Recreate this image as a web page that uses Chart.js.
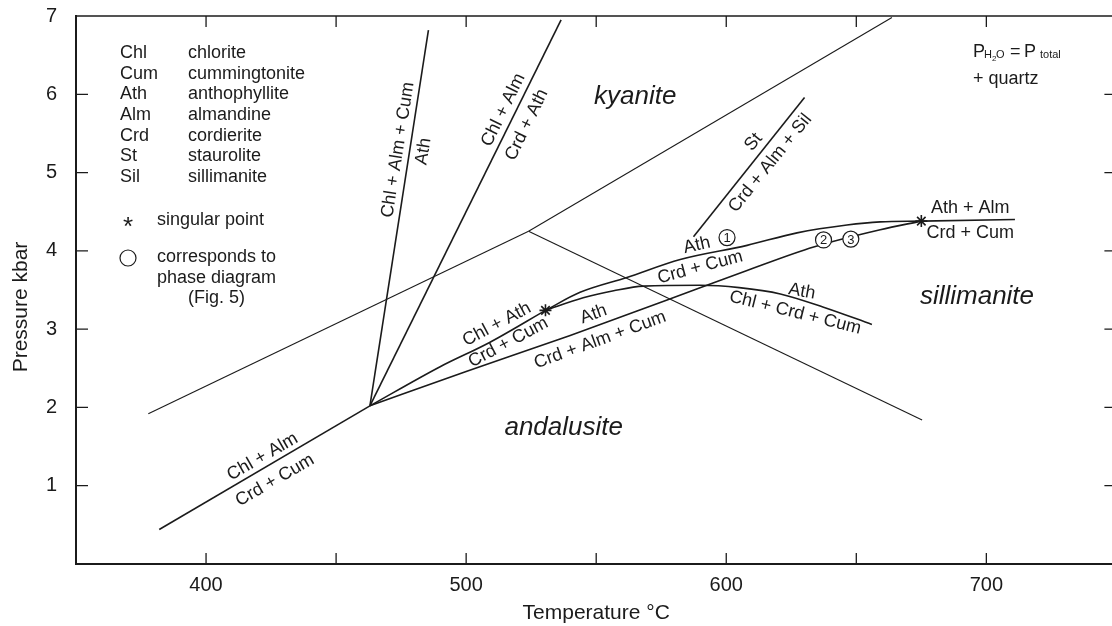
<!DOCTYPE html>
<html>
<head>
<meta charset="utf-8">
<script src="https://cdn.jsdelivr.net/npm/chart.js@4.4.1/dist/chart.umd.min.js"></script>
<style>
  html, body { margin: 0; padding: 0; background: #fff; overflow: hidden; }
  canvas { display: block; }
</style>
</head>
<body>
<canvas id="myChart" width="1124" height="626"></canvas>
<script>
// Reaction curves, temperature (°C) and pressure (kbar)
const chlAlmCrdCumT = [382, 463];
const chlAlmCrdCumP = [0.44, 2.02];

const chlAlmCumAthT = [463, 485.5];
const chlAlmCumAthP = [2.02, 6.82];

const chlAlmCrdAthT = [463, 536.5];
const chlAlmCrdAthP = [2.02, 6.95];

const chlAthCrdCumT = [463, 490, 509, 530.5];
const chlAthCrdCumP = [2.02, 2.52, 2.83, 3.24];

const athCrdCumT = [530.5, 543.8, 561.8, 582.3, 608, 627.2, 646.4, 659.2, 675];
const athCrdCumP = [3.24, 3.47, 3.66, 3.89, 4.07, 4.23, 4.33, 4.37, 4.38];

const athCrdAlmCumT = [463, 500, 540, 577, 608, 633.6, 659.2, 675];
const athCrdAlmCumP = [2.02, 2.46, 2.92, 3.37, 3.75, 4.05, 4.27, 4.38];

const athChlCrdCumT = [530.5, 545, 556.7, 568.2, 590, 605, 620.8, 637.4, 656];
const athChlCrdCumP = [3.24, 3.40, 3.49, 3.55, 3.56, 3.53, 3.45, 3.28, 3.06];

const athAlmCrdCumT = [675, 711];
const athAlmCrdCumP = [4.38, 4.40];

const stCrdAlmSilT = [587.4, 630.1];
const stCrdAlmSilP = [4.18, 5.96];

// Al2SiO5 polymorph boundaries
const kyAndT = [377.8, 524];
const kyAndP = [1.92, 4.25];
const kySilT = [524, 663.7];
const kySilP = [4.25, 6.98];
const andSilT = [524, 675.3];
const andSilP = [4.25, 1.84];

// singular points
const singularT = [530.5, 675];
const singularP = [3.24, 4.38];

// labels along the curves: text, T, P, angle (deg)
const curveLabels = [
    ['Chl + Alm', 421.7, 1.37, -30],
    ['Crd + Cum', 426.5, 1.07, -30],
    ['Chl + Alm + Cum', 473.8, 5.29, -81],
    ['Ath', 483.6, 5.27, -81],
    ['Chl + Alm', 514.3, 5.80, -64],
    ['Crd + Ath', 523.3, 5.61, -64],
    ['St', 610.5, 5.39, -51],
    ['Crd + Alm + Sil', 616.9, 5.12, -51],
    ['Chl + Ath', 511.8, 3.06, -28],
    ['Crd + Cum', 516.2, 2.83, -28],
    ['Ath', 549, 3.19, -20],
    ['Crd + Alm + Cum', 551.5, 2.86, -20],
    ['Ath', 588.7, 4.07, -13],
    ['Crd + Cum', 590, 3.79, -15],
    ['Ath', 629.1, 3.48, 10],
    ['Chl + Crd + Cum', 626.5, 3.21, 14],
    ['Ath + Alm', 693.8, 4.55, 0],
    ['Crd + Cum', 693.8, 4.23, 0]
];
const fieldLabels = [
    ['kyanite', 565, 5.97],
    ['andalusite', 537.5, 1.74],
    ['sillimanite', 696.4, 3.41]
];
const circleLabels = [
    ['1', 600.3, 4.17],
    ['2', 637.4, 4.14],
    ['3', 647.9, 4.15]
];
const abbrevs = ['Chl', 'Cum', 'Ath', 'Alm', 'Crd', 'St', 'Sil'];
const minerals = ['chlorite', 'cummingtonite', 'anthophyllite', 'almandine', 'cordierite', 'staurolite', 'sillimanite'];

const ink = '#1b1b1b';
const font = "'Liberation Sans', Arial, sans-serif";
Chart.defaults.font.family = font;
Chart.defaults.color = ink;

function pts(ts, ps) {
    return ts.map((t, i) => ({ x: t, y: ps[i] }));
}
function curve(ts, ps, width, smooth) {
    return {
        data: pts(ts, ps),
        showLine: true,
        borderColor: ink,
        borderWidth: width,
        pointRadius: 0,
        cubicInterpolationMode: smooth ? 'monotone' : 'default',
        tension: 0
    };
}
// keep the plot frame where the figure has it
function noPadding(s) {
    s.paddingTop = 0;
    s.paddingBottom = 0;
    s.paddingLeft = 0;
    s.paddingRight = 0;
}

const decorations = {
    id: 'decorations',
    afterDatasetsDraw(chart) {
        const { ctx, chartArea: a, scales: { x, y } } = chart;
        ctx.save();
        ctx.strokeStyle = ink;
        ctx.fillStyle = ink;

        // top frame line
        ctx.lineWidth = 1.6;
        ctx.beginPath();
        ctx.moveTo(a.left, a.top);
        ctx.lineTo(a.right, a.top);
        ctx.stroke();

        // inward ticks on all sides
        ctx.lineWidth = 1.3;
        ctx.beginPath();
        x.ticks.forEach(t => {
            if (t.value <= x.min || t.value >= x.max) return;
            const px = x.getPixelForValue(t.value);
            ctx.moveTo(px, a.bottom); ctx.lineTo(px, a.bottom - 11);
            ctx.moveTo(px, a.top); ctx.lineTo(px, a.top + 11);
        });
        y.ticks.forEach(t => {
            if (t.value <= y.min || t.value >= y.max) return;
            const py = y.getPixelForValue(t.value);
            ctx.moveTo(a.left, py); ctx.lineTo(a.left + 12, py);
            ctx.moveTo(a.right, py); ctx.lineTo(a.right - 12, py);
        });
        ctx.stroke();

        // labels along curves
        ctx.textAlign = 'center';
        ctx.textBaseline = 'middle';
        ctx.font = '18px ' + font;
        curveLabels.forEach(([txt, t, p, ang]) => {
            ctx.save();
            ctx.translate(x.getPixelForValue(t), y.getPixelForValue(p));
            ctx.rotate(ang * Math.PI / 180);
            ctx.fillText(txt, 0, 0);
            ctx.restore();
        });

        // stability fields
        ctx.font = 'italic 26px ' + font;
        fieldLabels.forEach(([txt, t, p]) => {
            ctx.fillText(txt, x.getPixelForValue(t), y.getPixelForValue(p));
        });

        // numbered circles
        ctx.lineWidth = 1.2;
        circleLabels.forEach(([txt, t, p]) => {
            const cx = x.getPixelForValue(t), cy = y.getPixelForValue(p);
            ctx.beginPath();
            ctx.arc(cx, cy, 8, 0, Math.PI * 2);
            ctx.fillStyle = '#fff';
            ctx.fill();
            ctx.stroke();
            ctx.fillStyle = ink;
            ctx.font = '13px ' + font;
            ctx.fillText(txt, cx, cy + 1);
        });

        // key at upper left
        ctx.textAlign = 'left';
        ctx.font = '18px ' + font;
        abbrevs.forEach((ab, i) => {
            const ry = 53 + i * 20.7;
            ctx.fillText(ab, 120, ry);
            ctx.fillText(minerals[i], 188, ry);
        });
        ctx.font = '26px ' + font;
        ctx.textAlign = 'center';
        ctx.fillText('*', 128, 228);
        ctx.textAlign = 'left';
        ctx.font = '18px ' + font;
        ctx.fillText('singular point', 157, 220);
        ctx.beginPath();
        ctx.arc(128, 258, 8, 0, Math.PI * 2);
        ctx.stroke();
        ctx.fillText('corresponds to', 157, 257);
        ctx.fillText('phase diagram', 157, 278);
        ctx.fillText('(Fig. 5)', 188, 298);

        // conditions at upper right
        ctx.textBaseline = 'alphabetic';
        ctx.font = '18px ' + font;
        ctx.fillText('P', 973, 57);
        ctx.font = '11px ' + font;
        ctx.fillText('H', 984, 58);
        ctx.font = '8px ' + font;
        ctx.fillText('2', 992, 61);
        ctx.font = '11px ' + font;
        ctx.fillText('O', 996, 58);
        ctx.font = '18px ' + font;
        ctx.fillText('=', 1010, 57);
        ctx.fillText('P', 1024, 57);
        ctx.font = '11px ' + font;
        ctx.fillText('total', 1040, 58);
        ctx.font = '18px ' + font;
        ctx.fillText('+ quartz', 973, 84);

        // y axis title
        ctx.save();
        ctx.translate(21, 307);
        ctx.rotate(-Math.PI / 2);
        ctx.textAlign = 'center';
        ctx.textBaseline = 'middle';
        ctx.font = '21px ' + font;
        ctx.fillText('Pressure kbar', 0, 0);
        ctx.restore();

        ctx.restore();
    }
};

const ctx = document.getElementById('myChart').getContext('2d');
const myChart = new Chart(ctx, {
    type: 'scatter',
    data: {
        datasets: [
            curve(chlAlmCrdCumT, chlAlmCrdCumP, 1.6, false),
            curve(chlAlmCumAthT, chlAlmCumAthP, 1.6, false),
            curve(chlAlmCrdAthT, chlAlmCrdAthP, 1.6, false),
            curve(chlAthCrdCumT, chlAthCrdCumP, 1.6, true),
            curve(athCrdCumT, athCrdCumP, 1.6, true),
            curve(athCrdAlmCumT, athCrdAlmCumP, 1.6, true),
            curve(athChlCrdCumT, athChlCrdCumP, 1.6, true),
            curve(athAlmCrdCumT, athAlmCrdCumP, 1.6, false),
            curve(stCrdAlmSilT, stCrdAlmSilP, 1.6, false),
            curve(kyAndT, kyAndP, 1.1, false),
            curve(kySilT, kySilP, 1.1, false),
            curve(andSilT, andSilP, 1.1, false),
            {
                data: pts(singularT, singularP),
                showLine: false,
                pointStyle: 'star',
                pointRadius: 6,
                borderWidth: 1.6,
                borderColor: ink,
                backgroundColor: ink
            }
        ]
    },
    options: {
        responsive: false,
        devicePixelRatio: 1,
        animation: false,
        layout: { padding: { top: 16, right: 0, bottom: 0, left: 0 } },
        plugins: {
            legend: { display: false },
            tooltip: { enabled: false }
        },
        scales: {
            x: {
                type: 'linear',
                min: 350,
                max: 750,
                afterFit: s => { s.height = 62; noPadding(s); },
                grid: { display: false, drawTicks: false },
                border: { display: true, color: ink, width: 2 },
                ticks: {
                    stepSize: 50,
                    autoSkip: false,
                    maxRotation: 0,
                    padding: 9,
                    color: ink,
                    font: { size: 20 },
                    callback: v => (v % 100 === 0 && v > 350 && v < 750) ? v : ''
                },
                title: {
                    display: true,
                    text: 'Temperature °C',
                    color: ink,
                    font: { size: 21 },
                    padding: { top: 0, bottom: 0 }
                }
            },
            y: {
                type: 'linear',
                min: 0,
                max: 7,
                afterFit: s => { s.width = 76; noPadding(s); },
                grid: { display: false, drawTicks: false },
                border: { display: true, color: ink, width: 2 },
                ticks: {
                    stepSize: 1,
                    padding: 19,
                    color: ink,
                    font: { size: 20 },
                    callback: v => v === 0 ? '' : v
                }
            }
        }
    },
    plugins: [decorations]
});
</script>
</body>
</html>
